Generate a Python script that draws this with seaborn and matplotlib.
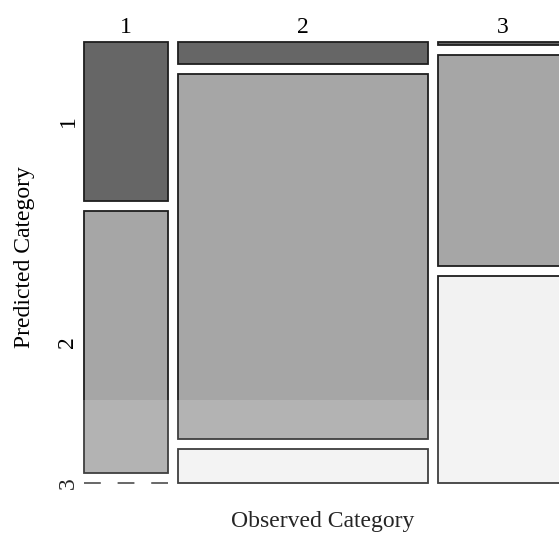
import numpy as np
import matplotlib
matplotlib.use("Agg")
import matplotlib.pyplot as plt
import seaborn as sns

# ── Data: counts (rows = observed category, cols = predicted category) ──────
observed = ["1", "2", "3"]
predicted = ["1", "2", "3"]
counts_obs1 = [34, 56, 0]
counts_obs2 = [14, 234, 22]
counts_obs3 = [1, 70, 69]
fill_colors = ["#666666", "#a6a6a6", "#f2f2f2"]

sns.set_theme(style="white")
plt.rcParams["font.family"] = ["Liberation Serif", "DejaVu Serif"]
plt.rcParams["text.color"] = "black"
plt.rcParams["xtick.color"] = "black"

counts = np.array([counts_obs1, counts_obs2, counts_obs3], dtype=float)
col_tot = counts.sum(axis=1)
widths = col_tot / col_tot.sum()

gap_x = 10 / 464
gap_y = 10 / 421
edge = "#1e1e1e"

fig = plt.figure(figsize=(5.59, 5.33), dpi=100)
ax = fig.add_axes([84 / 559, 50 / 533, 484 / 559, 441 / 533])

x0 = 0.0
centers_x = []
for i, obs in enumerate(observed):
    w = widths[i]
    props = counts[i] / col_tot[i]
    y0 = 0.0
    for j, pred in enumerate(predicted):
        h = props[j]
        if h > 0:
            bars = ax.bar(x0, h, width=w, bottom=y0, align="edge",
                          color=fill_colors[j], edgecolor=edge, linewidth=1.3)
            for b in bars:
                b.set_clip_on(False)
        else:
            # empty cell: dashed line, as in a classic mosaic plot
            ax.hlines(y0, x0, x0 + w, colors=edge, linewidth=1.1,
                      linestyles=(0, (11, 11)), clip_on=False)
        if i == 0:
            ax.text(-0.012, y0 + h / 2, pred, rotation=90, ha="right", va="center",
                    fontsize=17, color="black", clip_on=False)
        y0 += h + gap_y
    centers_x.append(x0 + w / 2)
    x0 += w + gap_x

ax.set_xlim(0, 1 + 2 * gap_x)
ax.set_ylim(1 + 2 * gap_y, 0)
ax.set_xticks(centers_x)
ax.set_xticklabels(observed, fontsize=17)
ax.xaxis.tick_top()
ax.tick_params(axis="x", length=0, pad=3)
ax.set_yticks([])
sns.despine(ax=ax, left=True, bottom=True)
ax.spines["top"].set_visible(False)
ax.spines["right"].set_visible(False)

fig.text(25 / 559, 1 - 257 / 533, "Predicted Category", rotation=90,
         ha="center", va="center", fontsize=17, color="black")
fig.text(323 / 559, 1 - 521 / 533, "Observed Category",
         ha="center", va="center", fontsize=17, color="black")

# faint light band across the bottom of the source image
fig.patches.append(plt.Rectangle((0, 0), 1, 133 / 533, transform=fig.transFigure,
                                 facecolor="white", alpha=0.15, edgecolor="none",
                                 zorder=10))

fig.savefig("out.png", dpi=100)
